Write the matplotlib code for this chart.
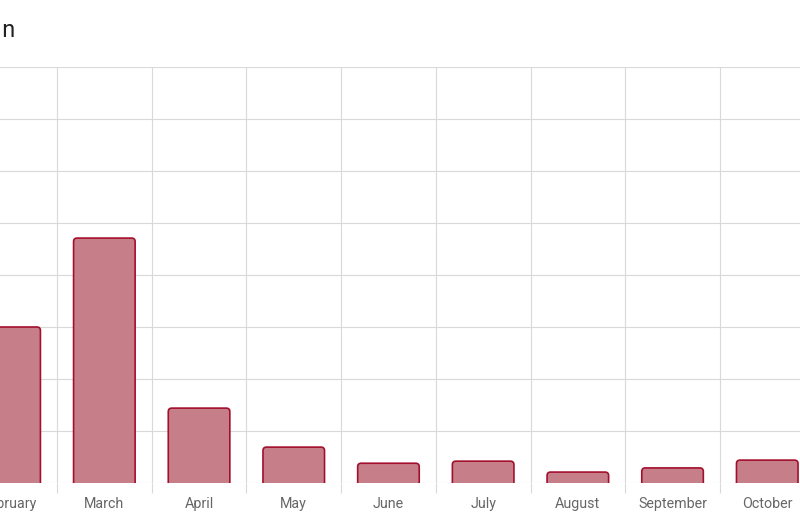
import matplotlib.pyplot as plt
from matplotlib.patches import FancyBboxPatch, Rectangle
import numpy as np

plt.rcParams['font.family'] = ['Roboto', 'DejaVu Sans']

# data (only the visible part of the chart)
months = ['February', 'March', 'April', 'May', 'June', 'July', 'August', 'September', 'October']
values = [300, 471, 144, 69, 38, 42, 21, 29, 44]

fill_col = '#c67f88'
edge_col = '#a3102e'
grid_col = '#d9d9d9'

fig = plt.figure(figsize=(8, 5.2), dpi=100)
# the plot area runs off both sides of the picture
ax = fig.add_axes([0, 37 / 520, 1, 416 / 520])

cat_px = 94.7
x0 = 0.5 - 57 / cat_px
ax.set_xlim(x0, x0 + 800 / cat_px)
ax.set_ylim(0, 800)

# rounded-top bars
bw = 0.65
r = 3.5 / cat_px
aspect = (800 / 416) / (1 / cat_px)
for i, v in enumerate(values):
    p = FancyBboxPatch((i - bw / 2, -10), bw, v + 10,
                       boxstyle=f"round,pad=0,rounding_size={r}",
                       mutation_aspect=aspect,
                       facecolor=fill_col, edgecolor=edge_col,
                       linewidth=1.2, zorder=3)
    ax.add_patch(p)

ax.set_yticks(np.arange(0, 801, 100))
ax.set_yticklabels([])
ax.tick_params(axis='y', length=0)
ax.set_xticks(range(len(months)))
ax.set_xticklabels(months)
ax.set_xticks(np.arange(0.5, len(months) - 0.5, 1), minor=True)
ax.tick_params(axis='x', which='major', length=0, pad=10, labelsize=10.3, labelcolor='#666666')
ax.tick_params(axis='x', which='minor', length=7.5, color=grid_col, width=0.8)
ax.grid(True, axis='y', color=grid_col, linewidth=0.8, zorder=0)
ax.grid(True, axis='x', which='minor', color=grid_col, linewidth=0.8, zorder=0)
ax.set_axisbelow(True)
for s in ax.spines.values():
    s.set_visible(False)

# title is cut off by the left edge, only its last letter shows
title = fig.text(15 / 800, 1 - 37 / 520, 'Distribution', ha='right', va='baseline',
                 fontsize=17, color='#222222')
title.set_clip_path(Rectangle((1.5 / 800, 0), 1, 1, transform=fig.transFigure))

fig.savefig('out.png', dpi=100)
